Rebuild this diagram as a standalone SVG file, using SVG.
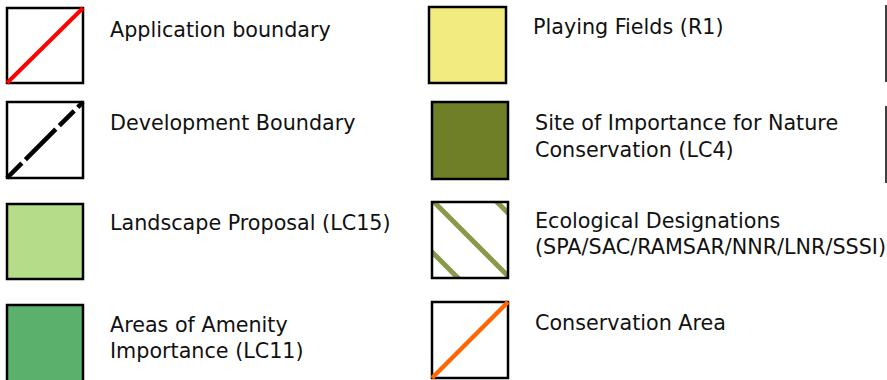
<svg xmlns="http://www.w3.org/2000/svg" width="887" height="380" viewBox="0 0 887 380">
<style>
.box{stroke:#000;stroke-width:2.5}
.lbl{font-family:"DejaVu Sans","Liberation Sans",sans-serif;font-size:20.7px;fill:#111}
</style>
<defs>
<clipPath id="hclip"><rect x="432" y="202" width="76" height="76"/></clipPath>
</defs>
<rect width="887" height="380" fill="#fff"/>
<g id="application-boundary">
<rect class="box" x="7" y="8" width="76" height="75" fill="#fff"/>
<line x1="7" y1="83" x2="83" y2="8" stroke="#ff0000" stroke-width="4"/>
<text class="lbl" x="110" y="37">Application boundary</text>
</g>
<g id="development-boundary">
<rect class="box" x="7" y="102" width="76" height="76" fill="#fff"/>
<line x1="7" y1="178" x2="83" y2="102" stroke="#000" stroke-width="4.5" stroke-dasharray="21 5 43 5"/>
<text class="lbl" x="110" y="130">Development Boundary</text>
</g>
<g id="landscape-proposal">
<rect class="box" x="7" y="204" width="76" height="75" fill="#b5dc89"/>
<text class="lbl" x="110" y="230">Landscape Proposal (LC15)</text>
</g>
<g id="amenity">
<rect class="box" x="7" y="305" width="76" height="85" fill="#5bb06b"/>
<text class="lbl" x="110" y="332">Areas of Amenity</text>
<text class="lbl" x="110" y="358">Importance (LC11)</text>
</g>
<g id="playing-fields">
<rect class="box" x="429" y="7" width="77" height="76" fill="#f2ec80"/>
<text class="lbl" x="533" y="34">Playing Fields (R1)</text>
</g>
<g id="sinc">
<rect class="box" x="432" y="102" width="76" height="77" fill="#6e7f27"/>
<text class="lbl" x="535" y="130">Site of Importance for Nature</text>
<text class="lbl" x="535" y="157">Conservation (LC4)</text>
</g>
<g id="ecological">
<rect x="432" y="202" width="76" height="76" fill="#fff"/>
<g clip-path="url(#hclip)" stroke="#8a9a4c" stroke-width="5">
<line x1="420" y1="188" x2="520" y2="288"/>
<line x1="480" y1="185" x2="530" y2="235"/>
<line x1="420" y1="240" x2="470" y2="290"/>
</g>
<rect class="box" x="432" y="202" width="76" height="76" fill="none"/>
<text class="lbl" x="535" y="228">Ecological Designations</text>
<text class="lbl" x="535" y="254">(SPA/SAC/RAMSAR/NNR/LNR/SSSI)</text>
</g>
<g id="conservation-area">
<rect class="box" x="432" y="302" width="76" height="76" fill="#fff"/>
<line x1="432" y1="378" x2="508" y2="302" stroke="#ff6600" stroke-width="4.5"/>
<text class="lbl" x="535" y="330">Conservation Area</text>
</g>
<g id="connectors">
<line x1="886" y1="5" x2="886" y2="82" stroke="#000" stroke-width="1.5"/>
<line x1="886" y1="106" x2="886" y2="183" stroke="#000" stroke-width="1.5"/>
</g>
</svg>
